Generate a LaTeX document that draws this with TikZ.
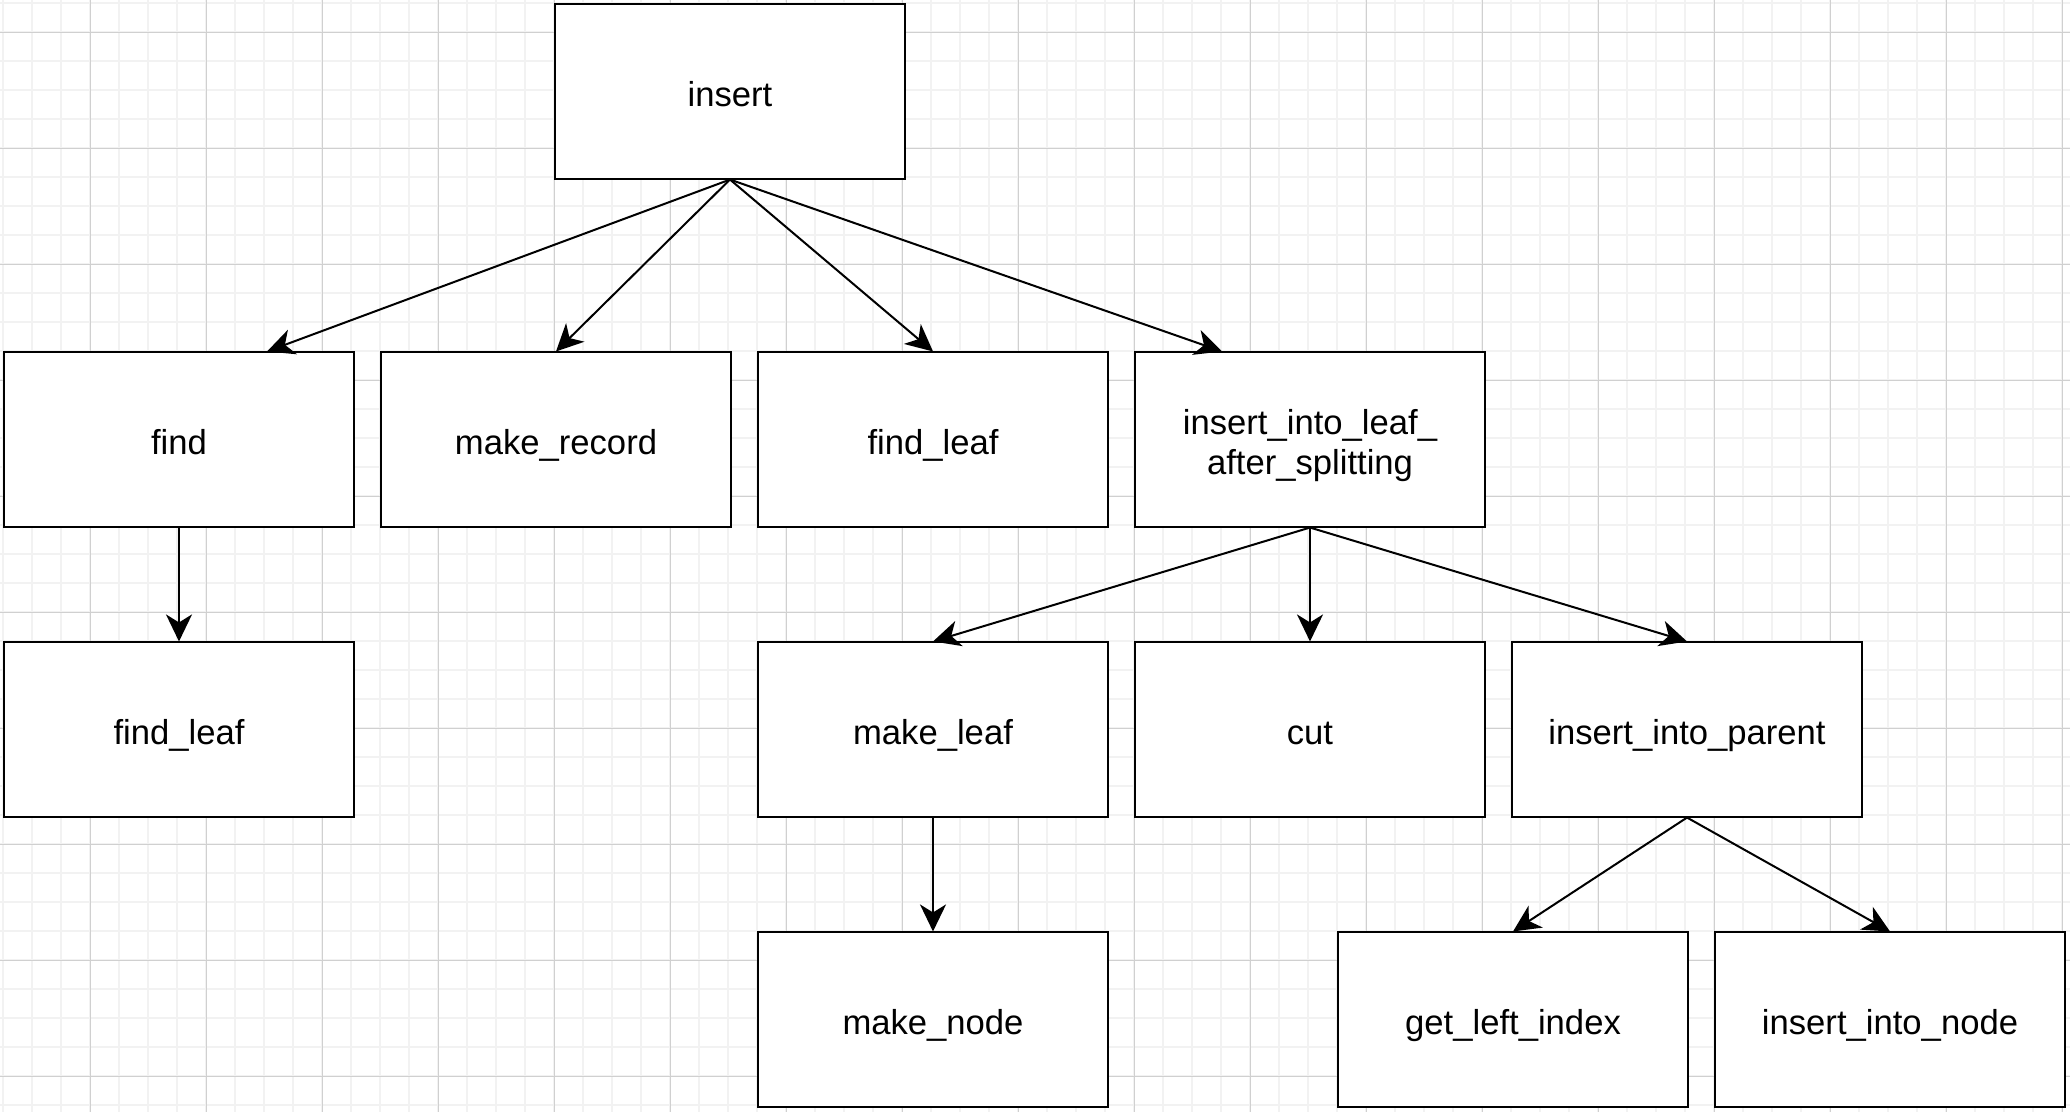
\documentclass[tikz,border=0pt]{standalone}
\usepackage{fontspec}
\setmainfont{Liberation Sans}
\usetikzlibrary{arrows.meta}
\definecolor{minorgrid}{HTML}{F2F2F2}
\definecolor{majorgrid}{HTML}{D0D0D0}

\begin{document}
\begin{tikzpicture}[x=0.01cm, y=-0.01cm, fn/.style={draw, fill=white, line width=0.02cm, minimum width=3.49cm, minimum height=1.74cm, inner sep=0pt, align=center, text height=0.33cm, text depth=0.04cm, font=\fontsize{9.85}{11.4}\selectfont}, call/.style={-{Stealth[length=0.27cm, width=0.26cm, inset=0.08cm]}, line width=0.02cm}, thingrid/.style={minorgrid, line width=0.012cm}, thickgrid/.style={majorgrid, line width=0.01cm}]

\useasboundingbox[fill=white] (0,0) rectangle (2070,1112);
\foreach \k in {0,...,71} \draw[thingrid] (3+29*\k,0) -- (3+29*\k,1112);
\foreach \k in {0,...,38} \draw[thingrid] (0,3+29*\k) -- (2070,3+29*\k);
\foreach \k in {0,...,17} \draw[thickgrid] (90+116*\k,0) -- (90+116*\k,1112);
\foreach \k in {0,...,9} \draw[thickgrid] (0,32+116*\k) -- (2070,32+116*\k);

\node[fn] (insert) at (730,91.5) {insert};
\node[fn] (find) at (179,439.5) {find};
\node[fn] (makerecord) at (556,439.5) {make\_record};
\node[fn] (findleaf) at (933,439.5) {find\_leaf};
\node[fn, text height={}, text depth={}] (intoleaf) at (1310,439.5) {\rule{0pt}{0.38cm}insert\_into\_leaf\_\\after\_splitting};
\node[fn] (findleafb) at (179,729.5) {find\_leaf};
\node[fn] (makeleaf) at (933,729.5) {make\_leaf};
\node[fn] (cut) at (1310,729.5) {cut};
\node[fn] (intoparent) at (1687,729.5) {insert\_into\_parent};
\node[fn] (makenode) at (933,1019.5) {make\_node};
\node[fn] (leftindex) at (1513,1019.5) {get\_left\_index};
\node[fn] (intonode) at (1890,1019.5) {insert\_into\_node};

\draw[call] (insert.south) -- ([xshift=0.88cm]find.north);
\draw[call] (insert.south) -- (makerecord.north);
\draw[call] (insert.south) -- (findleaf.north);
\draw[call] (insert.south) -- ([xshift=-0.88cm]intoleaf.north);
\draw[call] (find.south) -- (findleafb.north);
\draw[call] (intoleaf.south) -- (makeleaf.north);
\draw[call] (intoleaf.south) -- (cut.north);
\draw[call] (intoleaf.south) -- (intoparent.north);
\draw[call] (makeleaf.south) -- (makenode.north);
\draw[call] (intoparent.south) -- (leftindex.north);
\draw[call] (intoparent.south) -- (intonode.north);
\end{tikzpicture}
\end{document}
